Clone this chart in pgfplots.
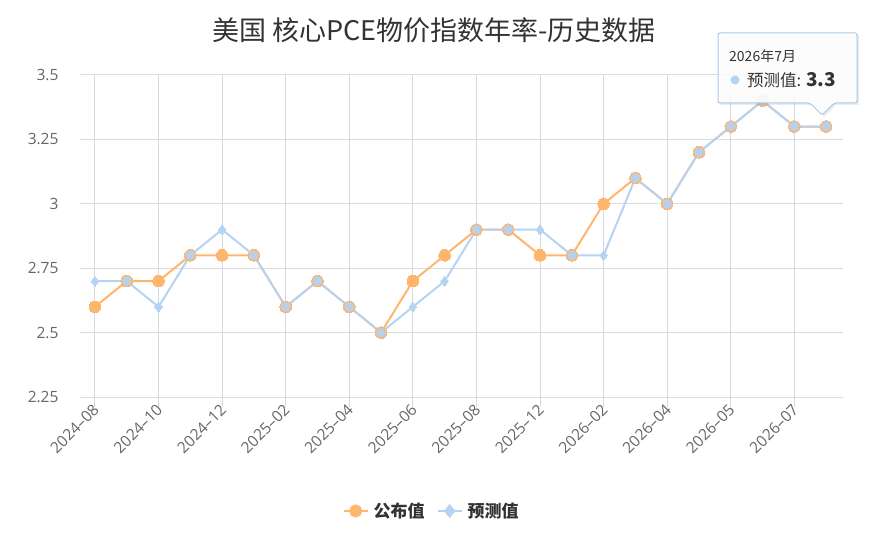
\documentclass[border=0pt]{standalone}
\usepackage{fontspec}
\setmainfont{Noto Sans CJK SC}
\newfontfamily\tickfont{Open Sans}
\usepackage{pgfplots}
\usepackage{pgfplotstable}
\pgfplotsset{compat=1.18}
\definecolor{pub}{HTML}{FFB56B}
\definecolor{fc}{HTML}{B5D3F2}
\definecolor{both}{HTML}{BACFE8}
\definecolor{vgrid}{HTML}{D3D9E3}
\definecolor{hgrid}{HTML}{DCDCDC}
\definecolor{txt}{HTML}{333333}
\definecolor{tick}{HTML}{666666}
\definecolor{tipborder}{HTML}{A9C6E8}

\pgfplotstableread{
i pub fc
0 2.6 2.7
1 2.7 2.7
2 2.7 2.6
3 2.8 2.8
4 2.8 2.9
5 2.8 2.8
6 2.6 2.6
7 2.7 2.7
8 2.6 2.6
9 2.5 2.5
10 2.7 2.6
11 2.8 2.7
12 2.9 2.9
13 2.9 2.9
14 2.8 2.9
15 2.8 2.8
16 3.0 2.8
17 3.1 3.1
18 3.0 3.0
19 3.2 3.2
20 3.3 3.3
21 3.4 3.4
22 3.3 3.3
23 3.3 3.3
}\datatable

\pgfplotstableread{
i v
1 2.7
3 2.8
5 2.8
6 2.6
7 2.7
8 2.6
9 2.5
12 2.9
13 2.9
15 2.8
17 3.1
18 3.0
19 3.2
20 3.3
21 3.4
22 3.3
23 3.3
}\bothtable

\newcommand\tf{\tickfont\fontsize{15.5}{18}\selectfont}
\newcommand\xf{\tickfont\fontsize{15.5}{18}\selectfont}
\begin{document}
\begin{tikzpicture}[x=1pt,y=1pt]
\path[use as bounding box] (0,0) rectangle (870,552);
\node[text=txt, font=\fontsize{27}{31}\selectfont] at (434,522) {美国 核心PCE物价指数年率-历史数据};
\begin{axis}[
  at={(80pt,155pt)}, anchor=south west,
  scale only axis, width=763pt, height=322pt,
  xmin=-0.47, xmax=23.53, ymin=2.25, ymax=3.5,
  axis line style={draw=none},
  /pgf/number format/assume math mode=true,
  ytick={2.25,2.5,2.75,3,3.25,3.5},
  yticklabels={\tf 2.25,\tf 2.5,\tf 2.75,\tf 3,\tf 3.25,\tf 3.5},
  xtick={0,2,...,22},
  xticklabels={\xf 2024–08,\xf 2024–10,\xf 2024–12,\xf 2025–02,\xf 2025–04,\xf 2025–06,\xf 2025–08,\xf 2025–12,\xf 2026–02,\xf 2026–04,\xf 2026–05,\xf 2026–07},
  xmajorgrids, ymajorgrids,
  x grid style={vgrid, line width=1pt},
  y grid style={hgrid, line width=1pt},
  tick align=outside, xtick pos=bottom, ytick pos=left,
  major tick length=10pt,
  x tick style={vgrid, line width=1pt},
  y tick style={draw=none},
  yticklabel style={text=tick, xshift=-8pt},
  xticklabel style={text=tick, rotate=45, anchor=east, xshift=4pt, yshift=-1pt},
  clip=false,
  legend style={at={(0.461,-0.354)}, anchor=center, legend columns=2, draw=none, fill=none,
    font=\bfseries\fontsize{17}{20}\selectfont, text=txt,
    /tikz/every even column/.append style={column sep=10pt},
    /tikz/every odd column/.append style={column sep=3pt}},
  legend cell align=left,
]
\addplot[pub, line width=2pt, mark=*, mark size=5.8pt, mark options={fill=pub, draw=pub, line width=0pt},
  legend image code/.code={\draw[pub, line width=2pt] (0pt,0pt) -- (24pt,0pt); \fill[pub] (12pt,0pt) circle (5.5pt);}]
  table[x=i, y=pub] {\datatable};
\addlegendentry{公布值}
\addplot[fc, line width=2pt, mark=diamond*, mark size=5pt, mark options={fill=fc, draw=fc, line width=0pt},
  legend image code/.code={\draw[fc, line width=2pt] (0pt,0pt) -- (24pt,0pt); \fill[fc] (12pt,5.5pt) -- (16.5pt,0pt) -- (12pt,-5.5pt) -- (7.5pt,0pt) -- cycle;}]
  table[x=i, y=fc] {\datatable};
\addlegendentry{预测值}
\addplot[only marks, forget plot, mark=*, mark size=5.6pt, mark options={fill=both, draw=pub, line width=0.8pt}]
  table[x=i, y=v] {\bothtable};
\end{axis}
% tooltip
\fill[black, opacity=0.08] (720,447) -- (812,447) -- (824,435) -- (836,447) -- (859,447) -- (859,517) -- (720,517) -- cycle;
\filldraw[fill=white, fill opacity=0.88, draw=tipborder, line width=1pt, rounded corners=2pt]
  (718,449) -- (810,449) -- (822,437) -- (834,449) -- (857,449) -- (857,519) -- (718,519) -- cycle;
\node[anchor=west, text=txt, font=\fontsize{14}{16}\selectfont, inner sep=0pt] at (729,496) {2026年7月};
\fill[fc] (735,472) circle (4.5);
\node[anchor=west, text=txt, inner sep=0pt, font=\fontsize{16.5}{19}\selectfont] at (747,472) {预测值: \textbf{\fontsize{19}{22}\selectfont 3.3}};
\end{tikzpicture}
\end{document}
